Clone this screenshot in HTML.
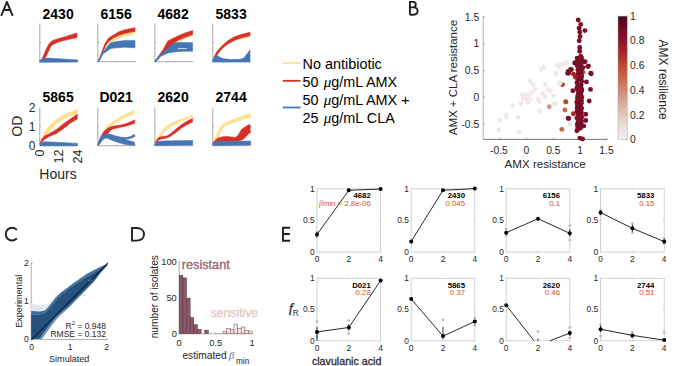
<!DOCTYPE html>
<html><head><meta charset="utf-8"><style>
html,body{margin:0;padding:0;background:#fff;}
body{width:685px;height:366px;overflow:hidden;}
svg{display:block;font-family:"Liberation Sans", sans-serif;}
</style></head><body>
<svg width="685" height="366" viewBox="0 0 685 366">
<rect width="685" height="366" fill="#fff"/>
<path d="M1.2,15.8 L6.9,1.9 L12.7,15.8 M3.6,10 H10.3" fill="none" stroke="#231f20" stroke-width="1.9" stroke-linejoin="round"/>
<path d="M409.9,14.8 V1.9 H413.2 C414.9,1.9 415.8,3.1 415.8,4.6 C415.8,6.2 414.7,7.4 412.9,7.4 H409.9 M412.9,7.4 H413.6 C416.1,7.4 417.6,8.9 417.6,11.1 C417.6,13.3 416,14.8 413.4,14.8 H409.9" fill="none" stroke="#231f20" stroke-width="1.9"/>
<path d="M16.86,229.87 A6.4,6.4 0 1 0 16.86,238.43" fill="none" stroke="#231f20" stroke-width="1.9" stroke-width="1.8"/>
<path d="M132,228 H136.5 C141.5,228 144,231 144,234.3 C144,237.6 141.5,240.6 136.5,240.6 H132 Z" fill="none" stroke="#231f20" stroke-width="1.9"/>
<path d="M290.1,227.8 H283 V240.8 H290.1 M283,234 H289.8" fill="none" stroke="#231f20" stroke-width="1.9"/>
<text x="0" y="0" font-size="14" text-anchor="middle" fill="#000" font-weight="bold" transform="translate(58.1,18.6) scale(1,1.08)">2430</text>
<text x="0" y="0" font-size="14" text-anchor="middle" fill="#000" font-weight="bold" transform="translate(116.1,18.6) scale(1,1.08)">6156</text>
<text x="0" y="0" font-size="14" text-anchor="middle" fill="#000" font-weight="bold" transform="translate(173.1,18.6) scale(1,1.08)">4682</text>
<text x="0" y="0" font-size="14" text-anchor="middle" fill="#000" font-weight="bold" transform="translate(231.1,18.6) scale(1,1.08)">5833</text>
<text x="0" y="0" font-size="14" text-anchor="middle" fill="#000" font-weight="bold" transform="translate(58.1,102.1) scale(1,1.08)">5865</text>
<text x="0" y="0" font-size="14" text-anchor="middle" fill="#000" font-weight="bold" transform="translate(116.1,102.1) scale(1,1.08)">D021</text>
<text x="0" y="0" font-size="14" text-anchor="middle" fill="#000" font-weight="bold" transform="translate(173.1,102.1) scale(1,1.08)">2620</text>
<text x="0" y="0" font-size="14" text-anchor="middle" fill="#000" font-weight="bold" transform="translate(231.1,102.1) scale(1,1.08)">2744</text>
<line x1="39.8" y1="23.5" x2="39.8" y2="61.7" stroke="#6e6e6e" stroke-width="0.6"/>
<line x1="39.8" y1="61.7" x2="78" y2="61.7" stroke="#6e6e6e" stroke-width="0.6"/>
<line x1="39.8" y1="42.6" x2="41" y2="42.6" stroke="#6e6e6e" stroke-width="0.6"/>
<line x1="58.9" y1="61.7" x2="58.9" y2="60.5" stroke="#6e6e6e" stroke-width="0.6"/>
<polygon points="40.5,61 41.4,59.9 43.7,55.3 46,49.5 48.3,45 50.6,42.1 52.9,40.4 58.7,38.6 66.7,36.3 77,32.9 77,37.5 66.7,39.8 58.7,42.1 52.9,44.4 50.6,46.7 48.3,51.8 46,56.4 44.3,58.7 42,61" fill="#d73027" stroke="#d73027" stroke-width="0.6" stroke-linejoin="round"/>
<polygon points="39.7,60.4 42.6,59 46,58.1 55.2,58.5 66.7,59.3 77.6,59.9 77.6,61.9 39.7,62.2" fill="#4575b4" stroke="#4575b4" stroke-width="0.6" stroke-linejoin="round"/>
<line x1="97.8" y1="23.5" x2="97.8" y2="61.7" stroke="#6e6e6e" stroke-width="0.6"/>
<line x1="97.8" y1="61.7" x2="136" y2="61.7" stroke="#6e6e6e" stroke-width="0.6"/>
<line x1="97.8" y1="42.6" x2="99" y2="42.6" stroke="#6e6e6e" stroke-width="0.6"/>
<line x1="116.9" y1="61.7" x2="116.9" y2="60.5" stroke="#6e6e6e" stroke-width="0.6"/>
<polygon points="109,41 113.2,37.5 119,34.5 124.7,32.5 135,30.5 135,33.8 124.7,36.4 119,38.2 113.2,41.2 109.8,43" fill="#fee090" stroke="#fee090" stroke-width="0.6" stroke-linejoin="round"/>
<polygon points="99,60 100.6,55.3 102.9,49 105.2,43.2 108.6,38.1 113.2,35.2 119,31.8 124.7,29.8 135,27.7 135,31.2 124.7,33.5 119,35.2 113.2,38.1 108.6,41.5 106.3,45 104,49.5 102.3,52.4 99.5,60.5" fill="#d73027" stroke="#d73027" stroke-width="0.6" stroke-linejoin="round"/>
<polygon points="97.8,61 100.6,56.4 102.9,51.8 105.2,49.5 108.6,45 110.9,42.7 116.7,41.5 124.7,40.4 135,40.4 135,47.8 124.7,47.2 116.7,47.8 110.9,48.4 108.6,50.1 105.2,52.4 102.9,54.1 100.6,58.7 97.8,62.3" fill="#4575b4" stroke="#4575b4" stroke-width="0.6" stroke-linejoin="round"/>
<line x1="154.8" y1="23.5" x2="154.8" y2="61.7" stroke="#6e6e6e" stroke-width="0.6"/>
<line x1="154.8" y1="61.7" x2="193" y2="61.7" stroke="#6e6e6e" stroke-width="0.6"/>
<line x1="154.8" y1="42.6" x2="156" y2="42.6" stroke="#6e6e6e" stroke-width="0.6"/>
<line x1="173.9" y1="61.7" x2="173.9" y2="60.5" stroke="#6e6e6e" stroke-width="0.6"/>
<polygon points="165,48 172.5,42 178.2,38.5 185.1,35.6 192.6,33.2 192.6,36 185.1,38.5 178.2,42 172.5,45 166,50" fill="#fee090" stroke="#fee090" stroke-width="0.6" stroke-linejoin="round"/>
<polygon points="155.3,61 159.9,54.1 163.3,49.5 165.6,45 167.9,40.9 171.4,39.2 178.2,35.8 185.1,32.9 192.6,30.6 192.6,34.5 185.1,37.3 178.2,40.2 172.5,44.2 169.1,47.1 165.6,50.5 162.2,53.4 159.9,55.7 156,61.5" fill="#d73027" stroke="#d73027" stroke-width="0.6" stroke-linejoin="round"/>
<polygon points="155,60.8 158.7,56.4 162.2,53 165.6,50.7 169.1,46.7 172.5,43.8 177.1,42.7 181.7,42.4 192.6,42.7 192.6,51.3 181.7,51.3 173.7,52.1 167.9,53 163.3,55.3 161,55.9 157.6,59.9 155,62.4" fill="#4575b4" stroke="#4575b4" stroke-width="0.6" stroke-linejoin="round"/>
<line x1="212.8" y1="23.5" x2="212.8" y2="61.7" stroke="#6e6e6e" stroke-width="0.6"/>
<line x1="212.8" y1="61.7" x2="251" y2="61.7" stroke="#6e6e6e" stroke-width="0.6"/>
<line x1="212.8" y1="42.6" x2="214" y2="42.6" stroke="#6e6e6e" stroke-width="0.6"/>
<line x1="231.9" y1="61.7" x2="231.9" y2="60.5" stroke="#6e6e6e" stroke-width="0.6"/>
<polygon points="232,39 240.8,36.5 250,34.5 250,37 240.8,39.2 233,41" fill="#fee090" stroke="#fee090" stroke-width="0.6" stroke-linejoin="round"/>
<polygon points="213.5,59 214.4,56.4 216.7,51.8 220.2,47.8 223.6,44.4 228.2,40.4 234,36.9 240.8,34.6 250,32.3 250,35.8 240.8,38.1 234,40.4 228.2,43.8 223.6,47.2 220.2,50.7 217.9,54.1 216.2,56.4 214.5,59" fill="#d73027" stroke="#d73027" stroke-width="0.6" stroke-linejoin="round"/>
<polygon points="212.7,60 214.4,57 216.2,55.3 217.9,55.9 220.2,57.6 223.6,58.7 231.7,59.6 240.8,59.3 244.3,57.6 247.7,53 250,50.1 250,62 212.7,62" fill="#4575b4" stroke="#4575b4" stroke-width="0.6" stroke-linejoin="round"/>
<line x1="39.8" y1="107.5" x2="39.8" y2="145.7" stroke="#6e6e6e" stroke-width="0.6"/>
<line x1="39.8" y1="145.7" x2="78" y2="145.7" stroke="#6e6e6e" stroke-width="0.6"/>
<line x1="39.8" y1="126.6" x2="41" y2="126.6" stroke="#6e6e6e" stroke-width="0.6"/>
<line x1="58.9" y1="145.7" x2="58.9" y2="144.5" stroke="#6e6e6e" stroke-width="0.6"/>
<polygon points="40.5,142 42.5,137 44.2,132.8 47,128.5 49.7,125.3 56.5,119.8 63.3,115 70.2,112 77.3,109.6 77.3,113.7 70.2,116.1 63.3,119.1 56.5,123.9 51,129.4 46.9,134.2 44.2,136.9 41.5,142" fill="#fee090" stroke="#fee090" stroke-width="0.6" stroke-linejoin="round"/>
<polygon points="40,143.5 41.5,139.6 44.2,136.2 49.7,133.5 56.5,129.4 63.3,123.9 70.2,119.1 77.3,114.3 77.3,119.1 70.2,123.2 63.3,128.7 56.5,133.5 49.7,136.2 44.2,139.6 41.5,142.3 40.5,144" fill="#d73027" stroke="#d73027" stroke-width="0.6" stroke-linejoin="round"/>
<polygon points="40.1,143 44.2,141.7 56.5,142.3 77.3,143.4 77.3,145.8 40.1,145.8" fill="#4575b4" stroke="#4575b4" stroke-width="0.6" stroke-linejoin="round"/>
<line x1="97.8" y1="107.5" x2="97.8" y2="145.7" stroke="#6e6e6e" stroke-width="0.6"/>
<line x1="97.8" y1="145.7" x2="136" y2="145.7" stroke="#6e6e6e" stroke-width="0.6"/>
<line x1="97.8" y1="126.6" x2="99" y2="126.6" stroke="#6e6e6e" stroke-width="0.6"/>
<line x1="116.9" y1="145.7" x2="116.9" y2="144.5" stroke="#6e6e6e" stroke-width="0.6"/>
<polygon points="105,128 107.5,125.4 113.6,121 123,115.5 134.7,110.2 134.7,113.2 123,118.5 119,121 110,126.5 105.5,130" fill="#fee090" stroke="#fee090" stroke-width="0.6" stroke-linejoin="round"/>
<polygon points="98,145 99.5,140 101,136.4 103.7,131.5 107.5,128.4 111.3,126.5 115.9,125.7 121.2,125 126.6,123.4 131.2,121.5 134.7,119.8 134.7,123.2 126.6,125.9 119,127.5 112.8,129 110.5,130.2 108.2,133.2 105.2,134.4 102.1,136 100.6,138.5 98.5,145" fill="#d73027" stroke="#d73027" stroke-width="0.6" stroke-linejoin="round"/>
<polygon points="97.5,145 98.5,142.5 100.6,137.6 102.9,135.3 107.5,133.8 111.3,134.5 115.9,136.1 121.2,137.2 126.6,137.6 130.4,136.5 134.5,134.3 134.8,136.6 130.4,138.4 126.6,139.2 124.5,139.6 130.4,141 134.5,142.2 134.8,145.2 126.6,144.8 119,142.7 111.3,140 107.5,138.2 105.2,138.2 102.9,139.6 100.6,142.7 98.3,145.8" fill="#4575b4" stroke="#4575b4" stroke-width="0.6" stroke-linejoin="round"/>
<line x1="154.8" y1="107.5" x2="154.8" y2="145.7" stroke="#6e6e6e" stroke-width="0.6"/>
<line x1="154.8" y1="145.7" x2="193" y2="145.7" stroke="#6e6e6e" stroke-width="0.6"/>
<line x1="154.8" y1="126.6" x2="156" y2="126.6" stroke="#6e6e6e" stroke-width="0.6"/>
<line x1="173.9" y1="145.7" x2="173.9" y2="144.5" stroke="#6e6e6e" stroke-width="0.6"/>
<polygon points="156,141 157.6,137 161,132.4 164.5,128.4 166.8,125.5 172.5,122.6 179.4,119.8 186.3,117.5 192.6,115.2 192.6,117.5 186.3,119.2 179.4,122.1 172.5,125.5 167.9,128.4 164.5,131.8 161,135.8 158.7,139.3 157,141" fill="#fee090" stroke="#fee090" stroke-width="0.6" stroke-linejoin="round"/>
<polygon points="155.5,142 156.4,140.4 158.7,137.6 162.2,136.4 166.8,136.1 170.2,134.1 176,129 181.7,124.4 187.4,120.9 192.6,118.6 192.6,122.1 187.4,124.4 181.7,127.8 176,132.4 170.2,136.4 166.8,137.9 162.2,138.7 158.7,139.9 156.4,142.7 155.5,143" fill="#d73027" stroke="#d73027" stroke-width="0.6" stroke-linejoin="round"/>
<polygon points="154.7,143.9 157.6,141.6 162.2,141 192.6,140.4 192.6,145 154.7,145.6" fill="#4575b4" stroke="#4575b4" stroke-width="0.6" stroke-linejoin="round"/>
<line x1="212.8" y1="107.5" x2="212.8" y2="145.7" stroke="#6e6e6e" stroke-width="0.6"/>
<line x1="212.8" y1="145.7" x2="251" y2="145.7" stroke="#6e6e6e" stroke-width="0.6"/>
<line x1="212.8" y1="126.6" x2="214" y2="126.6" stroke="#6e6e6e" stroke-width="0.6"/>
<line x1="231.9" y1="145.7" x2="231.9" y2="144.5" stroke="#6e6e6e" stroke-width="0.6"/>
<polygon points="213.5,142 214.4,139.3 217.9,132.4 221.3,126.1 223.6,123.8 228.2,121.5 236.2,118.6 243.1,115.8 250.6,113.5 250.6,117.5 243.1,119.2 236.2,121.5 228.2,124.4 224.8,126.1 222.5,128.4 220.2,133 217.3,138.7 215,141.6 214.5,142" fill="#fee090" stroke="#fee090" stroke-width="0.6" stroke-linejoin="round"/>
<polygon points="213,142.5 214.4,141 217.9,138.1 222.5,136.8 227.1,136.4 232.8,137.2 235.7,137.6 238.5,134.7 241.4,129.5 245.4,126.7 249.4,124.4 250.6,126.1 250,129 250.6,132.4 248.9,133.5 247.7,134.7 243.1,139.5 238.5,141 213,143" fill="#d73027" stroke="#d73027" stroke-width="0.6" stroke-linejoin="round"/>
<polygon points="212.7,143.3 215.6,141.6 250.6,141 250.6,145 212.7,145.6" fill="#4575b4" stroke="#4575b4" stroke-width="0.6" stroke-linejoin="round"/>
<line x1="177.7" y1="48.6" x2="186.9" y2="48.6" stroke="#dfe8f4" stroke-width="0.9"/>
<text x="35.4" y="149.9" font-size="12" text-anchor="end" fill="#262626" font-weight="normal">0</text>
<text x="35.4" y="130.8" font-size="12" text-anchor="end" fill="#262626" font-weight="normal">1</text>
<text x="35.4" y="111.7" font-size="12" text-anchor="end" fill="#262626" font-weight="normal">2</text>
<text x="0" y="0" font-size="12.5" text-anchor="end" fill="#262626" font-weight="normal" transform="translate(44.1,149.6) rotate(-90)">0</text>
<text x="0" y="0" font-size="12.5" text-anchor="end" fill="#262626" font-weight="normal" transform="translate(63.2,149.6) rotate(-90)">12</text>
<text x="0" y="0" font-size="12.5" text-anchor="end" fill="#262626" font-weight="normal" transform="translate(82.3,149.6) rotate(-90)">24</text>
<text x="0" y="0" font-size="14" text-anchor="middle" fill="#262626" font-weight="normal" transform="translate(21.8,126.2) rotate(-90)">OD</text>
<text x="58" y="179" font-size="14" text-anchor="middle" fill="#262626" font-weight="normal">Hours</text>
<line x1="282.8" y1="63" x2="300.5" y2="63" stroke="#fee090" stroke-width="1.8"/>
<line x1="282.8" y1="80.8" x2="300.5" y2="80.8" stroke="#d73027" stroke-width="1.8"/>
<line x1="282.8" y1="107.5" x2="300.5" y2="107.5" stroke="#4575b4" stroke-width="1.8"/>
<text x="302.6" y="68.6" font-size="14.4" text-anchor="start" fill="#000" font-weight="normal">No antibiotic</text>
<text x="302.6" y="86.5" font-size="14.4" text-anchor="start" fill="#000" font-weight="normal">50 <tspan font-style="italic" font-family="Liberation Serif, serif" font-size="15" dx="1.2">&#956;</tspan><tspan dx="0.6"></tspan>g/mL AMX</text>
<text x="302.6" y="104.6" font-size="14.4" text-anchor="start" fill="#000" font-weight="normal">50 <tspan font-style="italic" font-family="Liberation Serif, serif" font-size="15" dx="1.2">&#956;</tspan><tspan dx="0.6"></tspan>g/mL AMX +</text>
<text x="302.6" y="122.5" font-size="14.4" text-anchor="start" fill="#000" font-weight="normal">25 <tspan font-style="italic" font-family="Liberation Serif, serif" font-size="15" dx="1.2">&#956;</tspan><tspan dx="0.6"></tspan>g/mL CLA</text>
<line x1="483.2" y1="15.8" x2="483.2" y2="139.4" stroke="#b8b8b8" stroke-width="1.1"/>
<line x1="483.2" y1="139.4" x2="607.1" y2="139.4" stroke="#6a6a6a" stroke-width="0.9"/>
<line x1="483.2" y1="123.95" x2="484.7" y2="123.95" stroke="#6a6a6a" stroke-width="0.7"/>
<line x1="499.85" y1="139.4" x2="499.85" y2="137.9" stroke="#6a6a6a" stroke-width="0.7"/>
<line x1="483.2" y1="97.2" x2="484.7" y2="97.2" stroke="#6a6a6a" stroke-width="0.7"/>
<line x1="526.6" y1="139.4" x2="526.6" y2="137.9" stroke="#6a6a6a" stroke-width="0.7"/>
<line x1="483.2" y1="70.45" x2="484.7" y2="70.45" stroke="#6a6a6a" stroke-width="0.7"/>
<line x1="553.35" y1="139.4" x2="553.35" y2="137.9" stroke="#6a6a6a" stroke-width="0.7"/>
<line x1="483.2" y1="43.7" x2="484.7" y2="43.7" stroke="#6a6a6a" stroke-width="0.7"/>
<line x1="580.1" y1="139.4" x2="580.1" y2="137.9" stroke="#6a6a6a" stroke-width="0.7"/>
<line x1="483.2" y1="16.95" x2="484.7" y2="16.95" stroke="#6a6a6a" stroke-width="0.7"/>
<line x1="606.85" y1="139.4" x2="606.85" y2="137.9" stroke="#6a6a6a" stroke-width="0.7"/>
<text x="479.2" y="20.65" font-size="10.3" text-anchor="end" fill="#262626" font-weight="normal">1.5</text>
<text x="479.2" y="47.4" font-size="10.3" text-anchor="end" fill="#262626" font-weight="normal">1</text>
<text x="479.2" y="74.15" font-size="10.3" text-anchor="end" fill="#262626" font-weight="normal">0.5</text>
<text x="479.2" y="100.9" font-size="10.3" text-anchor="end" fill="#262626" font-weight="normal">0</text>
<text x="479.2" y="127.65" font-size="10.3" text-anchor="end" fill="#262626" font-weight="normal">-0.5</text>
<text x="498.9" y="154.1" font-size="10.3" text-anchor="middle" fill="#262626" font-weight="normal">-0.5</text>
<text x="526.4" y="154.1" font-size="10.3" text-anchor="middle" fill="#262626" font-weight="normal">0</text>
<text x="553.3" y="154.1" font-size="10.3" text-anchor="middle" fill="#262626" font-weight="normal">0.5</text>
<text x="580.1" y="154.1" font-size="10.3" text-anchor="middle" fill="#262626" font-weight="normal">1</text>
<text x="606.5" y="154.1" font-size="10.3" text-anchor="middle" fill="#262626" font-weight="normal">1.5</text>
<text x="545.2" y="167.8" font-size="11.6" text-anchor="middle" fill="#262626" font-weight="normal">AMX resistance</text>
<text x="0" y="0" font-size="11.5" text-anchor="middle" fill="#262626" font-weight="normal" transform="translate(457.2,77.6) rotate(-90)">AMX + CLA resistance</text>
<circle cx="541.1" cy="69.5" r="2.45" fill="#f0e9e8"/>
<circle cx="543.6" cy="67.4" r="2.45" fill="#f0e9e8"/>
<circle cx="559.2" cy="66.6" r="2.45" fill="#f0e9e8"/>
<circle cx="562.5" cy="64.1" r="2.45" fill="#f0e9e8"/>
<circle cx="566.6" cy="62.5" r="2.45" fill="#f0e9e8"/>
<circle cx="555.9" cy="73.9" r="2.45" fill="#f0e9e8"/>
<circle cx="529.7" cy="81.3" r="2.45" fill="#f0e9e8"/>
<circle cx="533" cy="84.6" r="2.45" fill="#f0e9e8"/>
<circle cx="545.2" cy="84.6" r="2.45" fill="#f0e9e8"/>
<circle cx="559.2" cy="83" r="2.45" fill="#f0e9e8"/>
<circle cx="535.4" cy="89.5" r="2.45" fill="#f0e9e8"/>
<circle cx="548.5" cy="89.5" r="2.45" fill="#f0e9e8"/>
<circle cx="550.2" cy="91.1" r="2.45" fill="#f0e9e8"/>
<circle cx="522.3" cy="94.4" r="2.45" fill="#f0e9e8"/>
<circle cx="527.2" cy="95.2" r="2.45" fill="#f0e9e8"/>
<circle cx="531.3" cy="92.8" r="2.45" fill="#f0e9e8"/>
<circle cx="542.8" cy="93.6" r="2.45" fill="#f0e9e8"/>
<circle cx="545.2" cy="96.9" r="2.45" fill="#f0e9e8"/>
<circle cx="526.4" cy="99.3" r="2.45" fill="#f0e9e8"/>
<circle cx="530.5" cy="99.3" r="2.45" fill="#f0e9e8"/>
<circle cx="538.7" cy="99.3" r="2.45" fill="#f0e9e8"/>
<circle cx="539.5" cy="101.8" r="2.45" fill="#f0e9e8"/>
<circle cx="528" cy="102.6" r="2.45" fill="#f0e9e8"/>
<circle cx="553.4" cy="96.1" r="2.45" fill="#f0e9e8"/>
<circle cx="554.3" cy="103.4" r="2.45" fill="#f0e9e8"/>
<circle cx="520.7" cy="103.4" r="2.45" fill="#f0e9e8"/>
<circle cx="512.5" cy="105.6" r="2.45" fill="#f0e9e8"/>
<circle cx="539.5" cy="110.8" r="2.45" fill="#f0e9e8"/>
<circle cx="518.2" cy="117.4" r="2.45" fill="#f0e9e8"/>
<circle cx="505.9" cy="114.8" r="2.45" fill="#f0e9e8"/>
<circle cx="506.3" cy="117.1" r="2.45" fill="#f0e9e8"/>
<circle cx="499.5" cy="120.3" r="2.45" fill="#f0e9e8"/>
<circle cx="498.7" cy="129.9" r="2.45" fill="#f0e9e8"/>
<circle cx="518.9" cy="131.9" r="2.45" fill="#f0e9e8"/>
<circle cx="555.7" cy="73" r="2.45" fill="#f0e9e8"/>
<circle cx="559.8" cy="83.2" r="2.45" fill="#f0e9e8"/>
<circle cx="555.7" cy="103.7" r="2.45" fill="#f0e9e8"/>
<circle cx="557.7" cy="65.5" r="2.45" fill="#f0e9e8"/>
<circle cx="570" cy="123.9" r="2.45" fill="#f0e9e8"/>
<circle cx="523" cy="97.7" r="2.45" fill="#f0e9e8"/>
<circle cx="538" cy="99.8" r="2.45" fill="#f0e9e8"/>
<circle cx="549.3" cy="106.7" r="2.45" fill="#d49986"/>
<circle cx="564.9" cy="110" r="2.45" fill="#c8674c"/>
<circle cx="565.9" cy="102" r="2.45" fill="#c8674c"/>
<circle cx="561.8" cy="129.4" r="2.45" fill="#c8674c"/>
<circle cx="562.5" cy="84.6" r="2.45" fill="#b2382c"/>
<circle cx="565.7" cy="101.8" r="2.45" fill="#bd4a2e"/>
<circle cx="583" cy="72.3" r="2.45" fill="#c2583d"/>
<circle cx="577.18" cy="58.09" r="2.45" fill="#780e27"/>
<circle cx="581.67" cy="57.95" r="2.45" fill="#841128"/>
<circle cx="577.77" cy="61.02" r="2.45" fill="#710d26"/>
<circle cx="580.61" cy="59.67" r="2.45" fill="#710d26"/>
<circle cx="577.67" cy="62.5" r="2.45" fill="#710d26"/>
<circle cx="581.22" cy="61.7" r="2.45" fill="#7e1028"/>
<circle cx="578.19" cy="64.65" r="2.45" fill="#841128"/>
<circle cx="581.27" cy="63.73" r="2.45" fill="#841128"/>
<circle cx="577.28" cy="65.86" r="2.45" fill="#780e27"/>
<circle cx="580.96" cy="67.24" r="2.45" fill="#710d26"/>
<circle cx="577.94" cy="69.84" r="2.45" fill="#710d26"/>
<circle cx="581.37" cy="69.15" r="2.45" fill="#7e1028"/>
<circle cx="578.21" cy="70.39" r="2.45" fill="#7e1028"/>
<circle cx="580.99" cy="70.72" r="2.45" fill="#710d26"/>
<circle cx="578.05" cy="74.11" r="2.45" fill="#710d26"/>
<circle cx="581.01" cy="73.17" r="2.45" fill="#780e27"/>
<circle cx="577.65" cy="75.42" r="2.45" fill="#7e1028"/>
<circle cx="581.65" cy="75.96" r="2.45" fill="#841128"/>
<circle cx="578.17" cy="78.78" r="2.45" fill="#7e1028"/>
<circle cx="581.32" cy="77.45" r="2.45" fill="#841128"/>
<circle cx="577.94" cy="79.42" r="2.45" fill="#780e27"/>
<circle cx="580.66" cy="79.13" r="2.45" fill="#710d26"/>
<circle cx="576.94" cy="82.8" r="2.45" fill="#710d26"/>
<circle cx="581.64" cy="81.24" r="2.45" fill="#710d26"/>
<circle cx="578.03" cy="85.15" r="2.45" fill="#841128"/>
<circle cx="581.17" cy="84.92" r="2.45" fill="#710d26"/>
<circle cx="577.95" cy="86.26" r="2.45" fill="#780e27"/>
<circle cx="581.01" cy="87.6" r="2.45" fill="#780e27"/>
<circle cx="576.81" cy="88.02" r="2.45" fill="#841128"/>
<circle cx="581.72" cy="89.74" r="2.45" fill="#780e27"/>
<circle cx="577.78" cy="90.31" r="2.45" fill="#841128"/>
<circle cx="581.77" cy="90.68" r="2.45" fill="#780e27"/>
<circle cx="578.33" cy="93.99" r="2.45" fill="#710d26"/>
<circle cx="580.8" cy="93.94" r="2.45" fill="#710d26"/>
<circle cx="577.83" cy="95.59" r="2.45" fill="#841128"/>
<circle cx="581.19" cy="96.28" r="2.45" fill="#780e27"/>
<circle cx="577.49" cy="98.04" r="2.45" fill="#7e1028"/>
<circle cx="581.7" cy="97.47" r="2.45" fill="#780e27"/>
<circle cx="577.63" cy="99.9" r="2.45" fill="#841128"/>
<circle cx="581.46" cy="100.77" r="2.45" fill="#780e27"/>
<circle cx="576.83" cy="102.23" r="2.45" fill="#7e1028"/>
<circle cx="580.3" cy="102.25" r="2.45" fill="#710d26"/>
<circle cx="577.36" cy="105.03" r="2.45" fill="#780e27"/>
<circle cx="581.38" cy="103.24" r="2.45" fill="#841128"/>
<circle cx="578.33" cy="105.44" r="2.45" fill="#780e27"/>
<circle cx="580.6" cy="106.31" r="2.45" fill="#780e27"/>
<circle cx="577.08" cy="107.97" r="2.45" fill="#780e27"/>
<circle cx="581.55" cy="108.13" r="2.45" fill="#710d26"/>
<circle cx="576.97" cy="111.43" r="2.45" fill="#7e1028"/>
<circle cx="580.7" cy="110.25" r="2.45" fill="#780e27"/>
<circle cx="577.18" cy="112.37" r="2.45" fill="#710d26"/>
<circle cx="581.24" cy="112.19" r="2.45" fill="#780e27"/>
<circle cx="578.32" cy="115.55" r="2.45" fill="#7e1028"/>
<circle cx="580.9" cy="115.91" r="2.45" fill="#7e1028"/>
<circle cx="576.93" cy="117.88" r="2.45" fill="#7e1028"/>
<circle cx="581.62" cy="117.3" r="2.45" fill="#7e1028"/>
<circle cx="578.06" cy="118.67" r="2.45" fill="#7e1028"/>
<circle cx="580.7" cy="120.27" r="2.45" fill="#7e1028"/>
<circle cx="578.18" cy="121.48" r="2.45" fill="#841128"/>
<circle cx="581.49" cy="121.49" r="2.45" fill="#7e1028"/>
<circle cx="577.47" cy="124.04" r="2.45" fill="#780e27"/>
<circle cx="580.94" cy="124.27" r="2.45" fill="#780e27"/>
<circle cx="577.47" cy="126.02" r="2.45" fill="#710d26"/>
<circle cx="580.45" cy="125.21" r="2.45" fill="#710d26"/>
<circle cx="577.69" cy="129.37" r="2.45" fill="#7e1028"/>
<circle cx="580.25" cy="128.31" r="2.45" fill="#780e27"/>
<circle cx="578.2" cy="20" r="2.45" fill="#7b0f27"/>
<circle cx="580.7" cy="24.5" r="2.45" fill="#7b0f27"/>
<circle cx="579.2" cy="28.3" r="2.45" fill="#7b0f27"/>
<circle cx="584.9" cy="30.6" r="2.45" fill="#7b0f27"/>
<circle cx="579.7" cy="32.1" r="2.45" fill="#7b0f27"/>
<circle cx="580.1" cy="36.5" r="2.45" fill="#7b0f27"/>
<circle cx="579.2" cy="40.7" r="2.45" fill="#7b0f27"/>
<circle cx="579.7" cy="47.4" r="2.45" fill="#7b0f27"/>
<circle cx="579.7" cy="51.3" r="2.45" fill="#7b0f27"/>
<circle cx="580.7" cy="56.1" r="2.45" fill="#7b0f27"/>
<circle cx="579.2" cy="58.9" r="2.45" fill="#7b0f27"/>
<circle cx="575.3" cy="62.8" r="2.45" fill="#7b0f27"/>
<circle cx="583.9" cy="61.8" r="2.45" fill="#7b0f27"/>
<circle cx="578.2" cy="64.7" r="2.45" fill="#7b0f27"/>
<circle cx="587.8" cy="66.6" r="2.45" fill="#7b0f27"/>
<circle cx="570.5" cy="69.5" r="2.45" fill="#7b0f27"/>
<circle cx="583" cy="67.6" r="2.45" fill="#7b0f27"/>
<circle cx="590.7" cy="73.3" r="2.45" fill="#7b0f27"/>
<circle cx="567.7" cy="73.3" r="2.45" fill="#7b0f27"/>
<circle cx="588.5" cy="66.1" r="2.45" fill="#7b0f27"/>
<circle cx="591.2" cy="73.7" r="2.45" fill="#7b0f27"/>
<circle cx="568.7" cy="73" r="2.45" fill="#7b0f27"/>
<circle cx="571.4" cy="69.6" r="2.45" fill="#7b0f27"/>
<circle cx="586.4" cy="81.9" r="2.45" fill="#7b0f27"/>
<circle cx="572.8" cy="90.7" r="2.45" fill="#7b0f27"/>
<circle cx="590.5" cy="89.4" r="2.45" fill="#7b0f27"/>
<circle cx="589.2" cy="101" r="2.45" fill="#7b0f27"/>
<circle cx="585.7" cy="114.3" r="2.45" fill="#7b0f27"/>
<circle cx="585.7" cy="120.5" r="2.45" fill="#7b0f27"/>
<circle cx="583.7" cy="126" r="2.45" fill="#7b0f27"/>
<circle cx="576.9" cy="130.7" r="2.45" fill="#7b0f27"/>
<circle cx="568.7" cy="118.4" r="2.45" fill="#7b0f27"/>
<circle cx="568.2" cy="71.5" r="2.45" fill="#7b0f27"/>
<circle cx="568.2" cy="118.2" r="2.45" fill="#7b0f27"/>
<circle cx="579.8" cy="138.1" r="2.45" fill="#7b0f27"/>
<circle cx="582.6" cy="139" r="2.45" fill="#7b0f27"/>
<circle cx="573.4" cy="74.1" r="2.45" fill="#a3232a"/>
<circle cx="575.3" cy="77.1" r="2.45" fill="#9e1f2a"/>
<circle cx="573.4" cy="113.7" r="2.45" fill="#a8272a"/>
<circle cx="574.7" cy="63" r="2.45" fill="#7b0f27"/>
<circle cx="585.1" cy="61.8" r="2.45" fill="#7b0f27"/>
<circle cx="560.2" cy="83" r="2.45" fill="#f0e9e8"/>
<defs><linearGradient id="cb" x1="0" y1="1" x2="0" y2="0"><stop offset="0" stop-color="#f2eeee"/><stop offset="0.1" stop-color="#ecdeda"/><stop offset="0.2" stop-color="#e3c7bf"/><stop offset="0.3" stop-color="#d9a898"/><stop offset="0.4" stop-color="#d08a74"/><stop offset="0.5" stop-color="#c8674c"/><stop offset="0.6" stop-color="#bd4a2e"/><stop offset="0.7" stop-color="#a8272a"/><stop offset="0.8" stop-color="#8e1329"/><stop offset="0.9" stop-color="#6e0c26"/><stop offset="1" stop-color="#3f0a1a"/></linearGradient></defs>
<rect x="618" y="16.1" width="9.2" height="123.4" fill="url(#cb)" stroke="#a8a8a8" stroke-width="0.5"/>
<line x1="625.9" y1="139.5" x2="627.2" y2="139.5" stroke="#6a6a6a" stroke-width="0.5"/>
<text x="630.1" y="143.2" font-size="10.3" text-anchor="start" fill="#262626" font-weight="normal">0</text>
<line x1="625.9" y1="114.82" x2="627.2" y2="114.82" stroke="#6a6a6a" stroke-width="0.5"/>
<text x="630.1" y="118.52" font-size="10.3" text-anchor="start" fill="#262626" font-weight="normal">0.2</text>
<line x1="625.9" y1="90.14" x2="627.2" y2="90.14" stroke="#6a6a6a" stroke-width="0.5"/>
<text x="630.1" y="93.84" font-size="10.3" text-anchor="start" fill="#262626" font-weight="normal">0.4</text>
<line x1="625.9" y1="65.46" x2="627.2" y2="65.46" stroke="#6a6a6a" stroke-width="0.5"/>
<text x="630.1" y="69.16" font-size="10.3" text-anchor="start" fill="#262626" font-weight="normal">0.6</text>
<line x1="625.9" y1="40.78" x2="627.2" y2="40.78" stroke="#6a6a6a" stroke-width="0.5"/>
<text x="630.1" y="44.48" font-size="10.3" text-anchor="start" fill="#262626" font-weight="normal">0.8</text>
<line x1="625.9" y1="16.1" x2="627.2" y2="16.1" stroke="#6a6a6a" stroke-width="0.5"/>
<text x="630.1" y="19.8" font-size="10.3" text-anchor="start" fill="#262626" font-weight="normal">1</text>
<text x="0" y="0" font-size="12" text-anchor="middle" fill="#262626" font-weight="normal" transform="translate(659,79.6) rotate(90)">AMX resilience</text>
<line x1="31.2" y1="262.6" x2="31.2" y2="339.6" stroke="#8a8a8a" stroke-width="0.7"/>
<line x1="31.2" y1="339.6" x2="107.6" y2="339.6" stroke="#8a8a8a" stroke-width="0.7"/>
<line x1="31.2" y1="263.5" x2="32.6" y2="263.5" stroke="#8a8a8a" stroke-width="0.6"/>
<line x1="31.2" y1="301.4" x2="32.6" y2="301.4" stroke="#8a8a8a" stroke-width="0.6"/>
<line x1="70.2" y1="339.6" x2="70.2" y2="338.2" stroke="#8a8a8a" stroke-width="0.6"/>
<line x1="106.9" y1="339.6" x2="106.9" y2="338.2" stroke="#8a8a8a" stroke-width="0.6"/>
<polygon points="31.2,303.5 40,305.5 47.7,304.2 52,299.8 56.4,295.5 60.8,292.2 65.2,290 73.7,282 87.3,272.3 98.3,266.9 104,264.5 107,263.5 107,264 104,265.2 98.3,268 87.3,273.8 73.7,283 66,288.8 60,293.3 55,298.5 50,305 45,310.5 40,311.5 31.2,311" fill="#e0e8f0"/>
<polygon points="31.2,311 40,311.5 45,310.5 50,305 55,298.5 60,293.3 66,288.8 73.7,283 87.3,273.8 98.3,268 104,265.2 107,264 107,264.2 100.7,268.8 94.2,272.4 86,277.2 77.8,282.8 69.6,288.3 64.1,293 61.4,295 55.3,301.5 50,308 45,313.2 40,314.5 31.2,314.5" fill="#406b96"/>
<polygon points="31.2,314.5 40,314.5 45,313.2 50,308 55.3,301.5 61.4,295 64.1,293 69.6,288.3 77.8,282.8 86,277.2 94.2,272.4 100.7,268.8 107,264.2 107.6,265.2 100,273.8 94.2,281.5 77.8,298.5 68,308.5 61.2,314.5 56.8,319 51.6,325.5 45.5,334 42,339 31.2,339.2" fill="#6b90b6"/>
<polygon points="31.2,314.5 40,314.5 45,313.2 50,308 55.3,301.5 61.4,295 64.1,293 69.6,288.3 77.8,282.8 86,277.2 94.2,272.4 100.7,268.8 107,264.2 107.6,264.8 100,273 94.2,280.5 77.8,297 68,306.5 61.2,312 56.8,316 51.6,322 45.5,330 39.4,338.6 31.2,339.2" fill="#24517e"/>
<line x1="31.4" y1="339.8" x2="107.8" y2="263.2" stroke="#0b1a2a" stroke-width="1.1"/>
<line x1="78" y1="296.5" x2="86" y2="294.9" stroke="#9fb6cf" stroke-width="0.5"/>
<line x1="88" y1="280.5" x2="92" y2="279.9" stroke="#9fb6cf" stroke-width="0.5"/>
<text x="28.8" y="266.3" font-size="8.6" text-anchor="end" fill="#262626" font-weight="normal">2</text>
<text x="28.8" y="304.2" font-size="8.6" text-anchor="end" fill="#262626" font-weight="normal">1</text>
<text x="28.8" y="342.2" font-size="8.6" text-anchor="end" fill="#262626" font-weight="normal">0</text>
<text x="31.7" y="350.4" font-size="8.6" text-anchor="middle" fill="#262626" font-weight="normal">0</text>
<text x="70.2" y="350.4" font-size="8.6" text-anchor="middle" fill="#262626" font-weight="normal">1</text>
<text x="106.7" y="350.4" font-size="8.6" text-anchor="middle" fill="#262626" font-weight="normal">2</text>
<text x="0" y="0" font-size="9.1" text-anchor="middle" fill="#262626" font-weight="normal" transform="translate(22,301.3) rotate(-90)">Experimental</text>
<text x="69.2" y="362" font-size="9.1" text-anchor="middle" fill="#262626" font-weight="normal">Simulated</text>
<text x="106" y="328.7" font-size="8.5" text-anchor="end" fill="#262626">R<tspan font-size="6" dy="-3.5">2</tspan><tspan dy="3.5"> = 0.948</tspan></text>
<text x="106" y="337" font-size="8.5" text-anchor="end" fill="#262626" font-weight="normal">RMSE = 0.132</text>
<line x1="179.2" y1="261" x2="179.2" y2="333.8" stroke="#8a8a8a" stroke-width="0.7"/>
<line x1="179.2" y1="333.8" x2="252.4" y2="333.8" stroke="#8a8a8a" stroke-width="0.7"/>
<line x1="179.2" y1="262.1" x2="180.6" y2="262.1" stroke="#8a8a8a" stroke-width="0.6"/>
<line x1="179.2" y1="298" x2="180.6" y2="298" stroke="#8a8a8a" stroke-width="0.6"/>
<line x1="215.7" y1="333.8" x2="215.7" y2="332.4" stroke="#8a8a8a" stroke-width="0.6"/>
<line x1="252.2" y1="333.8" x2="252.2" y2="332.4" stroke="#8a8a8a" stroke-width="0.6"/>
<rect x="179.2" y="275.3" width="3.65" height="58.3" fill="#8d5868" stroke="#4a2633" stroke-width="0.45"/>
<rect x="182.85" y="277.9" width="3.65" height="55.7" fill="#8d5868" stroke="#4a2633" stroke-width="0.45"/>
<rect x="186.5" y="298.1" width="3.65" height="35.5" fill="#8d5868" stroke="#4a2633" stroke-width="0.45"/>
<rect x="190.15" y="317.7" width="3.65" height="15.9" fill="#8d5868" stroke="#4a2633" stroke-width="0.45"/>
<rect x="193.8" y="324.6" width="3.65" height="9" fill="#8d5868" stroke="#4a2633" stroke-width="0.45"/>
<rect x="197.45" y="329.3" width="3.65" height="4.3" fill="#8d5868" stroke="#4a2633" stroke-width="0.45"/>
<rect x="201.1" y="333.6" width="3.65" height="0" fill="#8d5868" stroke="#4a2633" stroke-width="0.45"/>
<rect x="204.75" y="330.1" width="3.65" height="3.5" fill="#8d5868" stroke="#4a2633" stroke-width="0.45"/>
<rect x="208.4" y="333.6" width="3.65" height="0" fill="#8d5868" stroke="#4a2633" stroke-width="0.45"/>
<rect x="212.05" y="333.6" width="3.65" height="0" fill="#8d5868" stroke="#4a2633" stroke-width="0.45"/>
<rect x="215.7" y="333.6" width="3.65" height="0" fill="#8d5868" stroke="#4a2633" stroke-width="0.45"/>
<rect x="219.35" y="333.6" width="3.65" height="0" fill="#f4e2e0" stroke="#5e4444" stroke-width="0.45"/>
<rect x="223" y="331.3" width="3.65" height="2.3" fill="#f4e2e0" stroke="#5e4444" stroke-width="0.45"/>
<rect x="226.65" y="328.5" width="3.65" height="5.1" fill="#f4e2e0" stroke="#5e4444" stroke-width="0.45"/>
<rect x="230.3" y="329.4" width="3.65" height="4.2" fill="#f4e2e0" stroke="#5e4444" stroke-width="0.45"/>
<rect x="233.95" y="324.1" width="3.65" height="9.5" fill="#f4e2e0" stroke="#5e4444" stroke-width="0.45"/>
<rect x="237.6" y="328.3" width="3.65" height="5.3" fill="#f4e2e0" stroke="#5e4444" stroke-width="0.45"/>
<rect x="241.25" y="327" width="3.65" height="6.6" fill="#f4e2e0" stroke="#5e4444" stroke-width="0.45"/>
<rect x="244.9" y="330.7" width="3.65" height="2.9" fill="#f4e2e0" stroke="#5e4444" stroke-width="0.45"/>
<rect x="248.55" y="331" width="3.65" height="2.6" fill="#f4e2e0" stroke="#5e4444" stroke-width="0.45"/>
<text x="176.8" y="264.9" font-size="9.3" text-anchor="end" fill="#262626" font-weight="normal">100</text>
<text x="176.8" y="300.8" font-size="9.3" text-anchor="end" fill="#262626" font-weight="normal">50</text>
<text x="176.8" y="336.9" font-size="9.3" text-anchor="end" fill="#262626" font-weight="normal">0</text>
<text x="179.1" y="345.8" font-size="9.3" text-anchor="middle" fill="#262626" font-weight="normal">0</text>
<text x="215.6" y="345.8" font-size="9.3" text-anchor="middle" fill="#262626" font-weight="normal">0.5</text>
<text x="252.1" y="345.8" font-size="9.3" text-anchor="middle" fill="#262626" font-weight="normal">1</text>
<text x="0" y="0" font-size="10.2" text-anchor="middle" fill="#262626" font-weight="normal" transform="translate(158.3,296.7) rotate(-90)">number of isolates</text>
<text x="182.4" y="359.2" font-size="10.2" text-anchor="start" fill="#262626" font-weight="normal">estimated</text>
<text x="229" y="359.2" font-size="10.5" fill="#6a6a6a" font-style="italic" font-family="Liberation Serif, serif">&#946;</text>
<text x="236" y="364" font-size="8.2" text-anchor="start" fill="#262626" font-weight="normal">min</text>
<text x="181.8" y="269.4" font-size="12.7" text-anchor="start" fill="#9a5f74" font-weight="normal" stroke="#9a5f74" stroke-width="0.3">resistant</text>
<text x="210.7" y="317" font-size="12.2" text-anchor="start" fill="#e8c3bc" font-weight="normal" stroke="#e8c3bc" stroke-width="0.25">sensitive</text>
<rect x="317" y="188.8" width="63.6" height="63.3" fill="none" stroke="#c6c6c6" stroke-width="0.8"/>
<line x1="317" y1="220.45" x2="318.3" y2="220.45" stroke="#b0b0b0" stroke-width="0.6"/>
<line x1="380.6" y1="220.45" x2="379.3" y2="220.45" stroke="#b0b0b0" stroke-width="0.6"/>
<line x1="348.8" y1="252.1" x2="348.8" y2="250.8" stroke="#b0b0b0" stroke-width="0.6"/>
<line x1="348.8" y1="188.8" x2="348.8" y2="190.1" stroke="#b0b0b0" stroke-width="0.6"/>
<text x="314.6" y="191.9" font-size="8.4" text-anchor="end" fill="#262626" font-weight="normal">1</text>
<text x="314.6" y="223.35" font-size="8.4" text-anchor="end" fill="#262626" font-weight="normal">0.5</text>
<text x="314.6" y="254.9" font-size="8.4" text-anchor="end" fill="#262626" font-weight="normal">0</text>
<text x="317" y="262.1" font-size="8.4" text-anchor="middle" fill="#262626" font-weight="normal">0</text>
<text x="348.8" y="262.1" font-size="8.4" text-anchor="middle" fill="#262626" font-weight="normal">2</text>
<text x="380.6" y="262.1" font-size="8.4" text-anchor="middle" fill="#262626" font-weight="normal">4</text>
<circle cx="317" cy="236.8" r="1.35" fill="#b8b8b8"/>
<circle cx="317" cy="232" r="1.35" fill="#b8b8b8"/>
<line x1="317" y1="232.5" x2="317" y2="236.5" stroke="#000" stroke-width="0.8"/>
<polyline points="317,234.5 348.8,190.3 380.6,189" fill="none" stroke="#111" stroke-width="0.9"/>
<circle cx="317" cy="234.5" r="2" fill="#000"/>
<circle cx="348.8" cy="190.3" r="2" fill="#000"/>
<circle cx="380.6" cy="189" r="2" fill="#000"/>
<text x="370.8" y="198.1" font-size="7.8" text-anchor="end" fill="#000" font-weight="bold">4682</text>
<text x="370.8" y="206" font-size="7.8" text-anchor="end" fill="#d95319" font-weight="normal"><tspan font-family="Liberation Serif, serif" font-style="italic">&#946;</tspan>min = 2.8e-06</text>
<rect x="411.2" y="188.8" width="63.6" height="63.3" fill="none" stroke="#c6c6c6" stroke-width="0.8"/>
<line x1="411.2" y1="220.45" x2="412.5" y2="220.45" stroke="#b0b0b0" stroke-width="0.6"/>
<line x1="474.8" y1="220.45" x2="473.5" y2="220.45" stroke="#b0b0b0" stroke-width="0.6"/>
<line x1="443" y1="252.1" x2="443" y2="250.8" stroke="#b0b0b0" stroke-width="0.6"/>
<line x1="443" y1="188.8" x2="443" y2="190.1" stroke="#b0b0b0" stroke-width="0.6"/>
<text x="408.8" y="191.9" font-size="8.4" text-anchor="end" fill="#262626" font-weight="normal">1</text>
<text x="408.8" y="223.35" font-size="8.4" text-anchor="end" fill="#262626" font-weight="normal">0.5</text>
<text x="408.8" y="254.9" font-size="8.4" text-anchor="end" fill="#262626" font-weight="normal">0</text>
<text x="411.2" y="262.1" font-size="8.4" text-anchor="middle" fill="#262626" font-weight="normal">0</text>
<text x="443" y="262.1" font-size="8.4" text-anchor="middle" fill="#262626" font-weight="normal">2</text>
<text x="474.8" y="262.1" font-size="8.4" text-anchor="middle" fill="#262626" font-weight="normal">4</text>
<circle cx="411.2" cy="243" r="1.35" fill="#b8b8b8"/>
<polyline points="411.2,241.4 443,190.3 474.8,188.6" fill="none" stroke="#111" stroke-width="0.9"/>
<circle cx="411.2" cy="241.4" r="2" fill="#000"/>
<circle cx="443" cy="190.3" r="2" fill="#000"/>
<circle cx="474.8" cy="188.6" r="2" fill="#000"/>
<text x="465" y="198.1" font-size="7.8" text-anchor="end" fill="#000" font-weight="bold">2430</text>
<text x="465" y="206" font-size="7.8" text-anchor="end" fill="#d95319" font-weight="normal">0.045</text>
<rect x="506.2" y="188.8" width="63.6" height="63.3" fill="none" stroke="#c6c6c6" stroke-width="0.8"/>
<line x1="506.2" y1="220.45" x2="507.5" y2="220.45" stroke="#b0b0b0" stroke-width="0.6"/>
<line x1="569.8" y1="220.45" x2="568.5" y2="220.45" stroke="#b0b0b0" stroke-width="0.6"/>
<line x1="538" y1="252.1" x2="538" y2="250.8" stroke="#b0b0b0" stroke-width="0.6"/>
<line x1="538" y1="188.8" x2="538" y2="190.1" stroke="#b0b0b0" stroke-width="0.6"/>
<text x="503.8" y="191.9" font-size="8.4" text-anchor="end" fill="#262626" font-weight="normal">1</text>
<text x="503.8" y="223.35" font-size="8.4" text-anchor="end" fill="#262626" font-weight="normal">0.5</text>
<text x="503.8" y="254.9" font-size="8.4" text-anchor="end" fill="#262626" font-weight="normal">0</text>
<text x="506.2" y="262.1" font-size="8.4" text-anchor="middle" fill="#262626" font-weight="normal">0</text>
<text x="538" y="262.1" font-size="8.4" text-anchor="middle" fill="#262626" font-weight="normal">2</text>
<text x="569.8" y="262.1" font-size="8.4" text-anchor="middle" fill="#262626" font-weight="normal">4</text>
<circle cx="569.8" cy="225.7" r="1.35" fill="#b8b8b8"/>
<circle cx="569.8" cy="239.9" r="1.35" fill="#b8b8b8"/>
<circle cx="506.2" cy="229" r="1.35" fill="#b8b8b8"/>
<circle cx="506.2" cy="235.5" r="1.35" fill="#b8b8b8"/>
<line x1="569.8" y1="229" x2="569.8" y2="236.6" stroke="#000" stroke-width="0.8"/>
<line x1="506.2" y1="230.5" x2="506.2" y2="235" stroke="#000" stroke-width="0.8"/>
<polyline points="506.2,232.7 538,218.7 569.8,233.3" fill="none" stroke="#111" stroke-width="0.9"/>
<circle cx="506.2" cy="232.7" r="2" fill="#000"/>
<circle cx="538" cy="218.7" r="2" fill="#000"/>
<circle cx="569.8" cy="233.3" r="2" fill="#000"/>
<text x="560" y="198.1" font-size="7.8" text-anchor="end" fill="#000" font-weight="bold">6156</text>
<text x="560" y="206" font-size="7.8" text-anchor="end" fill="#d95319" font-weight="normal">0.1</text>
<rect x="600.6" y="188.8" width="63.6" height="63.3" fill="none" stroke="#c6c6c6" stroke-width="0.8"/>
<line x1="600.6" y1="220.45" x2="601.9" y2="220.45" stroke="#b0b0b0" stroke-width="0.6"/>
<line x1="664.2" y1="220.45" x2="662.9" y2="220.45" stroke="#b0b0b0" stroke-width="0.6"/>
<line x1="632.4" y1="252.1" x2="632.4" y2="250.8" stroke="#b0b0b0" stroke-width="0.6"/>
<line x1="632.4" y1="188.8" x2="632.4" y2="190.1" stroke="#b0b0b0" stroke-width="0.6"/>
<text x="598.2" y="191.9" font-size="8.4" text-anchor="end" fill="#262626" font-weight="normal">1</text>
<text x="598.2" y="223.35" font-size="8.4" text-anchor="end" fill="#262626" font-weight="normal">0.5</text>
<text x="598.2" y="254.9" font-size="8.4" text-anchor="end" fill="#262626" font-weight="normal">0</text>
<text x="600.6" y="262.1" font-size="8.4" text-anchor="middle" fill="#262626" font-weight="normal">0</text>
<text x="632.4" y="262.1" font-size="8.4" text-anchor="middle" fill="#262626" font-weight="normal">2</text>
<text x="664.2" y="262.1" font-size="8.4" text-anchor="middle" fill="#262626" font-weight="normal">4</text>
<circle cx="600.6" cy="210" r="1.35" fill="#b8b8b8"/>
<circle cx="600.6" cy="214.8" r="1.35" fill="#b8b8b8"/>
<circle cx="632.4" cy="223.5" r="1.35" fill="#b8b8b8"/>
<circle cx="632.4" cy="232.7" r="1.35" fill="#b8b8b8"/>
<circle cx="664.2" cy="238.3" r="1.35" fill="#b8b8b8"/>
<circle cx="664.2" cy="243.6" r="1.35" fill="#b8b8b8"/>
<line x1="600.6" y1="210.5" x2="600.6" y2="214.5" stroke="#000" stroke-width="0.8"/>
<line x1="632.4" y1="224.6" x2="632.4" y2="231.8" stroke="#000" stroke-width="0.8"/>
<line x1="664.2" y1="239" x2="664.2" y2="243.5" stroke="#000" stroke-width="0.8"/>
<polyline points="600.6,212.6 632.4,228.3 664.2,241.6" fill="none" stroke="#111" stroke-width="0.9"/>
<circle cx="600.6" cy="212.6" r="2" fill="#000"/>
<circle cx="632.4" cy="228.3" r="2" fill="#000"/>
<circle cx="664.2" cy="241.6" r="2" fill="#000"/>
<text x="654.4" y="198.1" font-size="7.8" text-anchor="end" fill="#000" font-weight="bold">5833</text>
<text x="654.4" y="206" font-size="7.8" text-anchor="end" fill="#d95319" font-weight="normal">0.15</text>
<rect x="317" y="278.2" width="63.6" height="62.6" fill="none" stroke="#c6c6c6" stroke-width="0.8"/>
<line x1="317" y1="309.5" x2="318.3" y2="309.5" stroke="#b0b0b0" stroke-width="0.6"/>
<line x1="380.6" y1="309.5" x2="379.3" y2="309.5" stroke="#b0b0b0" stroke-width="0.6"/>
<line x1="348.8" y1="340.8" x2="348.8" y2="339.5" stroke="#b0b0b0" stroke-width="0.6"/>
<line x1="348.8" y1="278.2" x2="348.8" y2="279.5" stroke="#b0b0b0" stroke-width="0.6"/>
<text x="314.6" y="281.3" font-size="8.4" text-anchor="end" fill="#262626" font-weight="normal">1</text>
<text x="314.6" y="312.4" font-size="8.4" text-anchor="end" fill="#262626" font-weight="normal">0.5</text>
<text x="314.6" y="343.6" font-size="8.4" text-anchor="end" fill="#262626" font-weight="normal">0</text>
<text x="317" y="350.8" font-size="8.4" text-anchor="middle" fill="#262626" font-weight="normal">0</text>
<text x="348.8" y="350.8" font-size="8.4" text-anchor="middle" fill="#262626" font-weight="normal">2</text>
<text x="380.6" y="350.8" font-size="8.4" text-anchor="middle" fill="#262626" font-weight="normal">4</text>
<circle cx="317" cy="321.6" r="1.35" fill="#b8b8b8"/>
<circle cx="317" cy="336.5" r="1.35" fill="#b8b8b8"/>
<circle cx="348.8" cy="320.5" r="1.35" fill="#b8b8b8"/>
<circle cx="348.8" cy="333.6" r="1.35" fill="#b8b8b8"/>
<line x1="317" y1="327" x2="317" y2="340.8" stroke="#000" stroke-width="0.8"/>
<line x1="348.8" y1="324.2" x2="348.8" y2="330.8" stroke="#000" stroke-width="0.8"/>
<polyline points="317,331.9 348.8,327.5 380.6,280.6" fill="none" stroke="#111" stroke-width="0.9"/>
<circle cx="317" cy="331.9" r="2" fill="#000"/>
<circle cx="348.8" cy="327.5" r="2" fill="#000"/>
<circle cx="380.6" cy="280.6" r="2" fill="#000"/>
<text x="370.8" y="287.5" font-size="7.8" text-anchor="end" fill="#000" font-weight="bold">D021</text>
<text x="370.8" y="295.4" font-size="7.8" text-anchor="end" fill="#d95319" font-weight="normal">0.28</text>
<rect x="411.2" y="278.2" width="63.6" height="62.6" fill="none" stroke="#c6c6c6" stroke-width="0.8"/>
<line x1="411.2" y1="309.5" x2="412.5" y2="309.5" stroke="#b0b0b0" stroke-width="0.6"/>
<line x1="474.8" y1="309.5" x2="473.5" y2="309.5" stroke="#b0b0b0" stroke-width="0.6"/>
<line x1="443" y1="340.8" x2="443" y2="339.5" stroke="#b0b0b0" stroke-width="0.6"/>
<line x1="443" y1="278.2" x2="443" y2="279.5" stroke="#b0b0b0" stroke-width="0.6"/>
<text x="408.8" y="281.3" font-size="8.4" text-anchor="end" fill="#262626" font-weight="normal">1</text>
<text x="408.8" y="312.4" font-size="8.4" text-anchor="end" fill="#262626" font-weight="normal">0.5</text>
<text x="408.8" y="343.6" font-size="8.4" text-anchor="end" fill="#262626" font-weight="normal">0</text>
<text x="411.2" y="350.8" font-size="8.4" text-anchor="middle" fill="#262626" font-weight="normal">0</text>
<text x="443" y="350.8" font-size="8.4" text-anchor="middle" fill="#262626" font-weight="normal">2</text>
<text x="474.8" y="350.8" font-size="8.4" text-anchor="middle" fill="#262626" font-weight="normal">4</text>
<circle cx="443" cy="319.9" r="1.35" fill="#b8b8b8"/>
<circle cx="474.8" cy="318.3" r="1.35" fill="#b8b8b8"/>
<circle cx="474.8" cy="325.2" r="1.35" fill="#b8b8b8"/>
<line x1="443" y1="326.8" x2="443" y2="339.1" stroke="#000" stroke-width="0.8"/>
<polyline points="411.2,299 443,336.1 474.8,321.5" fill="none" stroke="#111" stroke-width="0.9"/>
<circle cx="411.2" cy="299" r="2" fill="#000"/>
<circle cx="443" cy="336.1" r="2" fill="#000"/>
<circle cx="474.8" cy="321.5" r="2" fill="#000"/>
<text x="465" y="287.5" font-size="7.8" text-anchor="end" fill="#000" font-weight="bold">5865</text>
<text x="465" y="295.4" font-size="7.8" text-anchor="end" fill="#d95319" font-weight="normal">0.37</text>
<rect x="506.2" y="278.2" width="63.6" height="62.6" fill="none" stroke="#c6c6c6" stroke-width="0.8"/>
<line x1="506.2" y1="309.5" x2="507.5" y2="309.5" stroke="#b0b0b0" stroke-width="0.6"/>
<line x1="569.8" y1="309.5" x2="568.5" y2="309.5" stroke="#b0b0b0" stroke-width="0.6"/>
<line x1="538" y1="340.8" x2="538" y2="339.5" stroke="#b0b0b0" stroke-width="0.6"/>
<line x1="538" y1="278.2" x2="538" y2="279.5" stroke="#b0b0b0" stroke-width="0.6"/>
<text x="503.8" y="281.3" font-size="8.4" text-anchor="end" fill="#262626" font-weight="normal">1</text>
<text x="503.8" y="312.4" font-size="8.4" text-anchor="end" fill="#262626" font-weight="normal">0.5</text>
<text x="503.8" y="343.6" font-size="8.4" text-anchor="end" fill="#262626" font-weight="normal">0</text>
<text x="506.2" y="350.8" font-size="8.4" text-anchor="middle" fill="#262626" font-weight="normal">0</text>
<text x="538" y="350.8" font-size="8.4" text-anchor="middle" fill="#262626" font-weight="normal">2</text>
<text x="569.8" y="350.8" font-size="8.4" text-anchor="middle" fill="#262626" font-weight="normal">4</text>
<circle cx="538" cy="331.5" r="1.35" fill="#b8b8b8"/>
<circle cx="569.8" cy="327.5" r="1.35" fill="#b8b8b8"/>
<circle cx="569.8" cy="338" r="1.35" fill="#b8b8b8"/>
<line x1="538" y1="338.4" x2="538" y2="340.8" stroke="#000" stroke-width="0.8"/>
<line x1="569.8" y1="330.5" x2="569.8" y2="336" stroke="#000" stroke-width="0.8"/>
<polyline points="506.2,305.3 534.1,340.8" fill="none" stroke="#111" stroke-width="0.9"/>
<polyline points="549.9,340.8 569.8,333.1" fill="none" stroke="#111" stroke-width="0.9"/>
<circle cx="506.2" cy="305.3" r="2" fill="#000"/>
<circle cx="569.8" cy="333.1" r="2" fill="#000"/>
<text x="560" y="287.5" font-size="7.8" text-anchor="end" fill="#000" font-weight="bold">2620</text>
<text x="560" y="295.4" font-size="7.8" text-anchor="end" fill="#d95319" font-weight="normal">0.46</text>
<rect x="600.6" y="278.2" width="63.6" height="62.6" fill="none" stroke="#c6c6c6" stroke-width="0.8"/>
<line x1="600.6" y1="309.5" x2="601.9" y2="309.5" stroke="#b0b0b0" stroke-width="0.6"/>
<line x1="664.2" y1="309.5" x2="662.9" y2="309.5" stroke="#b0b0b0" stroke-width="0.6"/>
<line x1="632.4" y1="340.8" x2="632.4" y2="339.5" stroke="#b0b0b0" stroke-width="0.6"/>
<line x1="632.4" y1="278.2" x2="632.4" y2="279.5" stroke="#b0b0b0" stroke-width="0.6"/>
<text x="598.2" y="281.3" font-size="8.4" text-anchor="end" fill="#262626" font-weight="normal">1</text>
<text x="598.2" y="312.4" font-size="8.4" text-anchor="end" fill="#262626" font-weight="normal">0.5</text>
<text x="598.2" y="343.6" font-size="8.4" text-anchor="end" fill="#262626" font-weight="normal">0</text>
<text x="600.6" y="350.8" font-size="8.4" text-anchor="middle" fill="#262626" font-weight="normal">0</text>
<text x="632.4" y="350.8" font-size="8.4" text-anchor="middle" fill="#262626" font-weight="normal">2</text>
<text x="664.2" y="350.8" font-size="8.4" text-anchor="middle" fill="#262626" font-weight="normal">4</text>
<circle cx="600.6" cy="324.5" r="1.35" fill="#b8b8b8"/>
<circle cx="600.6" cy="336.1" r="1.35" fill="#b8b8b8"/>
<circle cx="632.4" cy="332.2" r="1.35" fill="#b8b8b8"/>
<circle cx="632.4" cy="337.3" r="1.35" fill="#b8b8b8"/>
<circle cx="664.2" cy="332.6" r="1.35" fill="#b8b8b8"/>
<line x1="600.6" y1="325.7" x2="600.6" y2="332.2" stroke="#000" stroke-width="0.8"/>
<polyline points="600.6,329.2 632.4,335.4 664.2,340.1" fill="none" stroke="#111" stroke-width="0.9"/>
<circle cx="600.6" cy="329.2" r="2" fill="#000"/>
<circle cx="632.4" cy="335.4" r="2" fill="#000"/>
<circle cx="664.2" cy="340.1" r="2" fill="#000"/>
<text x="654.4" y="287.5" font-size="7.8" text-anchor="end" fill="#000" font-weight="bold">2744</text>
<text x="654.4" y="295.4" font-size="7.8" text-anchor="end" fill="#d95319" font-weight="normal">0.51</text>
<text x="289" y="312.4" font-size="13.5" font-style="italic" font-family="Liberation Serif, serif" fill="#2a2a2a" stroke="#2a2a2a" stroke-width="0.35">f</text>
<text x="292.8" y="315.6" font-size="8.2" fill="#2a2a2a">R</text>
<text x="311.9" y="364.9" font-size="11.6" fill="#2b2b2b" stroke="#2b2b2b" stroke-width="0.3" textLength="69.5" lengthAdjust="spacingAndGlyphs">clavulanic acid</text>
</svg>
</body></html>
